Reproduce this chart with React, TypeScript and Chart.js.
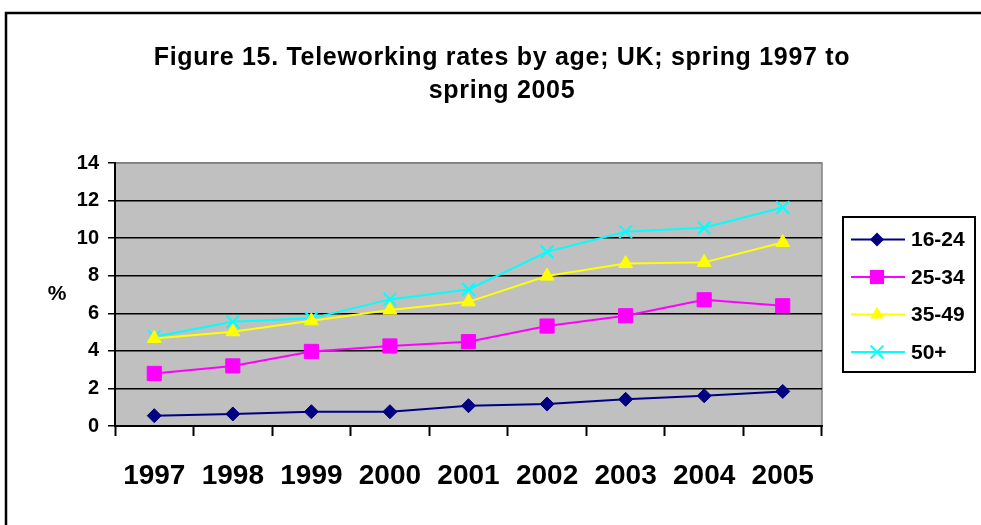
import React, { useEffect, useRef } from 'react';
import { Chart, registerables } from 'chart.js';

Chart.register(...registerables);

const years = ['1997', '1998', '1999', '2000', '2001', '2002', '2003', '2004', '2005'];
const seriesLabels = ['16-24', '25-34', '35-49', '50+'];
const age16to24 = [0.55, 0.64, 0.76, 0.76, 1.08, 1.17, 1.42, 1.61, 1.84];
const age25to34 = [2.8, 3.2, 3.97, 4.26, 4.49, 5.32, 5.87, 6.72, 6.4];
const age35to49 = [4.66, 5.02, 5.6, 6.17, 6.61, 7.98, 8.65, 8.71, 9.77];
const age50plus = [4.75, 5.55, 5.73, 6.74, 7.27, 9.27, 10.34, 10.55, 11.63];
const yMin = 0;
const yMax = 14;
const yStep = 2;
const titleLines = ['Figure 15. Teleworking rates by age; UK; spring 1997 to', 'spring 2005'];
const yAxisLabel = '%';

const FONT = '"Liberation Sans", Arial, Helvetica, sans-serif';

function drawMarker(ctx: CanvasRenderingContext2D, style: string, x: number, y: number, r: number, fill: string, stroke: string, lw: number) {
  ctx.save();
  ctx.fillStyle = fill;
  ctx.strokeStyle = stroke;
  ctx.lineWidth = lw;
  ctx.beginPath();
  if (style === 'rectRot') {
    ctx.moveTo(x, y - r);
    ctx.lineTo(x + r, y);
    ctx.lineTo(x, y + r);
    ctx.lineTo(x - r, y);
    ctx.closePath();
    ctx.fill();
  } else if (style === 'rect') {
    const s = r * Math.SQRT1_2;
    ctx.rect(x - s, y - s, 2 * s, 2 * s);
    ctx.fill();
  } else if (style === 'triangle') {
    ctx.moveTo(x, y - r);
    ctx.lineTo(x + r * Math.sin(Math.PI * 2 / 3), y - r * Math.cos(Math.PI * 2 / 3));
    ctx.lineTo(x + r * Math.sin(Math.PI * 4 / 3), y - r * Math.cos(Math.PI * 4 / 3));
    ctx.closePath();
    ctx.fill();
  } else if (style === 'crossRot') {
    const s = r * Math.SQRT1_2;
    ctx.moveTo(x - s, y - s);
    ctx.lineTo(x + s, y + s);
    ctx.moveTo(x - s, y + s);
    ctx.lineTo(x + s, y - s);
    ctx.stroke();
  }
  ctx.restore();
}

const decorPlugin = {
  id: 'decor',
  beforeDraw(chart: any) {
    const { ctx, chartArea } = chart;
    ctx.save();
    ctx.fillStyle = '#ffffff';
    ctx.fillRect(0, 0, chart.width, chart.height);
    // outer frame
    ctx.strokeStyle = '#000000';
    ctx.lineWidth = 2.5;
    ctx.strokeRect(6, 13, 3000, 3000);
    // plot background
    ctx.fillStyle = '#C0C0C0';
    ctx.fillRect(chartArea.left, chartArea.top, chartArea.right - chartArea.left, chartArea.bottom - chartArea.top);
    ctx.strokeStyle = '#808080';
    ctx.lineWidth = 1.5;
    ctx.beginPath();
    ctx.moveTo(chartArea.left, chartArea.top);
    ctx.lineTo(chartArea.right, chartArea.top);
    ctx.lineTo(chartArea.right, chartArea.bottom);
    ctx.stroke();
    ctx.restore();
  },
  afterDraw(chart: any) {
    const { ctx, chartArea } = chart;
    ctx.save();
    // title
    ctx.fillStyle = '#000000';
    ctx.font = `bold 25px ${FONT}`;
    ctx.textAlign = 'center';
    ctx.textBaseline = 'middle';
    try { (ctx as any).letterSpacing = '0.7px'; } catch (e) { /* ignore */ }
    titleLines.forEach((t, i) => ctx.fillText(t, 502, 58 + i * 33));
    try { (ctx as any).letterSpacing = '0px'; } catch (e) { /* ignore */ }
    // y axis label
    ctx.font = `bold 21px ${FONT}`;
    ctx.fillText(yAxisLabel, 57, (chartArea.top + chartArea.bottom) / 2);
    // legend
    const bx = chartArea.right + 21;
    const by = 217;
    const bw = 132;
    const bh = 155;
    ctx.strokeStyle = '#000000';
    ctx.lineWidth = 2;
    ctx.strokeRect(bx, by, bw, bh);
    chart.data.datasets.forEach((ds: any, i: number) => {
      const y = by + 22.5 + i * 37.5;
      ctx.strokeStyle = ds.borderColor;
      ctx.lineWidth = 2;
      ctx.beginPath();
      ctx.moveTo(bx + 8, y);
      ctx.lineTo(bx + 62, y);
      ctx.stroke();
      drawMarker(ctx, ds.pointStyle, bx + 34, y, ds.pointRadius, ds.pointBackgroundColor, ds.pointBorderColor, ds.pointBorderWidth);
      ctx.fillStyle = '#000000';
      ctx.font = `bold 21px ${FONT}`;
      ctx.textAlign = 'left';
      ctx.textBaseline = 'middle';
      ctx.fillText(ds.label, bx + 68, y + 1);
    });
    ctx.restore();
  },
};

export default function App() {
  const ref = useRef<HTMLCanvasElement | null>(null);
  useEffect(() => {
    if (!ref.current) return;
    const chart = new Chart(ref.current, {
      type: 'line',
      data: {
        labels: years,
        datasets: [
          {
            label: seriesLabels[0], data: age16to24, borderColor: '#000080', backgroundColor: '#000080',
            borderWidth: 2, pointStyle: 'rectRot', pointRadius: 7, pointBackgroundColor: '#000080',
            pointBorderColor: '#000080', pointBorderWidth: 1, tension: 0,
          },
          {
            label: seriesLabels[1], data: age25to34, borderColor: '#FF00FF', backgroundColor: '#FF00FF',
            borderWidth: 2, pointStyle: 'rect', pointRadius: 10, pointBackgroundColor: '#FF00FF',
            pointBorderColor: '#FF00FF', pointBorderWidth: 1, tension: 0,
          },
          {
            label: seriesLabels[2], data: age35to49, borderColor: '#FFFF00', backgroundColor: '#FFFF00',
            borderWidth: 2, pointStyle: 'triangle', pointRadius: 8, pointBackgroundColor: '#FFFF00',
            pointBorderColor: '#FFFF00', pointBorderWidth: 1, tension: 0,
          },
          {
            label: seriesLabels[3], data: age50plus, borderColor: '#00FFFF', backgroundColor: '#00FFFF',
            borderWidth: 2, pointStyle: 'crossRot', pointRadius: 9, pointBackgroundColor: '#00FFFF',
            pointBorderColor: '#00FFFF', pointBorderWidth: 2, tension: 0,
          },
        ],
      },
      options: {
        animation: false,
        responsive: false,
        devicePixelRatio: 1,
        layout: { padding: { top: 163, left: 0, right: 159, bottom: 0 } },
        plugins: {
          legend: { display: false },
          title: { display: false },
          tooltip: { enabled: false },
        },
        scales: {
          x: {
            offset: true,
            grid: {
              offset: true, drawOnChartArea: false, drawTicks: true, tickLength: 10,
              tickColor: '#000000', tickWidth: 2,
            },
            border: { display: true, color: '#000000', width: 2 },
            ticks: {
              color: '#000000', padding: 23, maxRotation: 0, autoSkip: false,
              font: { family: FONT, size: 28, weight: 'bold' },
            },
            afterFit: (s: any) => { s.height = 99; },
          },
          y: {
            min: yMin, max: yMax,
            grid: {
              color: (c: any) => (c.tick && c.tick.value === yMax ? '#808080' : '#000000'),
              lineWidth: 1.5, tickLength: 7, tickColor: '#000000', tickWidth: 1.5,
            },
            border: { display: true, color: '#000000', width: 2 },
            ticks: {
              stepSize: yStep, color: '#000000', padding: 9,
              font: { family: FONT, size: 20, weight: 'bold' },
            },
            afterFit: (s: any) => { s.width = 115; },
          },
        },
      },
      plugins: [decorPlugin],
    } as any);
    return () => chart.destroy();
  }, []);
  return (
    <div style={{ position: 'fixed', left: 0, top: 0, width: 981, height: 525, background: '#fff' }}>
      <canvas ref={ref} width={981} height={525} style={{ width: 981, height: 525, display: 'block' }} />
    </div>
  );
}
